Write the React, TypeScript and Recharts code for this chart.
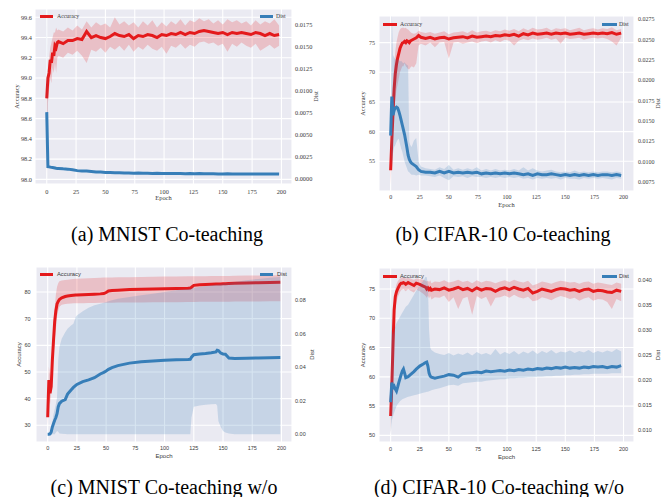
import { Area, CartesianGrid, ComposedChart, Line, XAxis, YAxis } from "recharts";

const RED = "#e41a1c";
const BLUE = "#377eb8";
const BG = "#eaeaf2";
const INK = "#3a3a3a";
const SERIF = '"Liberation Serif", "Times New Roman", serif';
const SANS = '"Liberation Sans", Arial, sans-serif';

const EPOCH_TICKS = [0, 25, 50, 75, 100, 125, 150, 175, 200];

// ---------- (a) MNIST Co-teaching ----------
const EPOCHS_A = [
  0, 1, 2, 3, 4, 5, 6, 7, 8, 9,
  10, 14, 18, 22, 26, 30, 34, 38, 42, 46,
  50, 54, 58, 62, 66, 70, 74, 78, 82, 86,
  90, 94, 98, 102, 106, 110, 114, 118, 122, 126,
  130, 134, 138, 142, 146, 150, 154, 158, 162, 166,
  170, 174, 178, 182, 186, 190, 194, 198,
];
const ACC_A = [
  98.8, 99.0, 99.05, 99.18, 99.15, 99.25, 99.22, 99.32, 99.3, 99.35,
  99.36, 99.34, 99.37, 99.37, 99.39, 99.38, 99.46, 99.4, 99.42, 99.4,
  99.39, 99.41, 99.44, 99.42, 99.41, 99.43, 99.39, 99.42, 99.41, 99.43,
  99.42, 99.4, 99.43, 99.42, 99.44, 99.43, 99.45, 99.43, 99.45, 99.44,
  99.46, 99.47, 99.46, 99.45, 99.44, 99.45, 99.43, 99.45, 99.44, 99.45,
  99.44, 99.43, 99.45, 99.44, 99.42, 99.44, 99.42, 99.43,
];
const ACC_A_HI = [
  98.82, 99.1, 99.2, 99.3, 99.35, 99.4, 99.45, 99.45, 99.5, 99.47,
  99.48, 99.46, 99.5, 99.47, 99.52, 99.48, 99.56, 99.5, 99.55, 99.52,
  99.54, 99.5, 99.6, 99.53, 99.56, 99.52, 99.55, 99.5, 99.56, 99.52,
  99.57, 99.5, 99.55, 99.51, 99.56, 99.53, 99.58, 99.52, 99.57, 99.55,
  99.59, 99.56, 99.58, 99.54, 99.57, 99.53, 99.58, 99.55, 99.57, 99.54,
  99.56, 99.52, 99.57, 99.53, 99.56, 99.54, 99.58, 99.52,
];
const ACC_A_LO = [
  98.05, 98.75, 98.9, 99.0, 98.95, 99.1, 99.05, 99.15, 99.05, 99.2,
  99.22, 99.2, 99.25, 99.23, 99.27, 99.22, 99.15, 99.28, 99.26, 99.3,
  99.25, 99.31, 99.28, 99.32, 99.27, 99.33, 99.26, 99.31, 99.28, 99.33,
  99.29, 99.27, 99.31, 99.24, 99.32, 99.3, 99.34, 99.29, 99.33, 99.31,
  99.35, 99.36, 99.34, 99.35, 99.32, 99.34, 99.26, 99.34, 99.31, 99.35,
  99.32, 99.3, 99.34, 99.27, 99.3, 99.33, 99.29, 99.32,
];
const DIST_A = [
  0.0076, 0.0014, 0.00138, 0.00135, 0.00132, 0.0013, 0.00128, 0.00125, 0.00122, 0.0012,
  0.0012, 0.00115, 0.00112, 0.00105, 0.00095, 0.00092, 0.0009, 0.00085, 0.0008, 0.00078,
  0.00075, 0.00074, 0.0007, 0.00072, 0.00068, 0.00068, 0.00066, 0.00067, 0.00064, 0.00065,
  0.00063, 0.00064, 0.00062, 0.00063, 0.00062, 0.00061, 0.00062, 0.0006, 0.00061, 0.0006,
  0.00061, 0.0006, 0.00059, 0.0006, 0.00058, 0.00058, 0.00059, 0.00057, 0.00058, 0.00057,
  0.00058, 0.00056, 0.00057, 0.00056, 0.00057, 0.00056, 0.00057, 0.00056,
];
// spread of Dist is only visible over the first epochs
const DIST_A_LO = [0.0045, 0.0012];
const DIST_A_HI = [0.02, 0.0016];

// ---------- (b) CIFAR-10 Co-teaching ----------
const EPOCHS_B = [
  0, 1, 2, 3, 4, 5, 6, 7, 8, 9,
  10, 11, 12, 13, 14, 15, 16, 17, 18, 20,
  22, 24, 26, 30, 34, 38, 42, 46, 50, 54,
  58, 62, 66, 70, 74, 78, 82, 86, 90, 94,
  98, 102, 106, 110, 114, 118, 122, 126, 130, 134,
  138, 142, 146, 150, 154, 158, 162, 166, 170, 174,
  178, 182, 186, 190, 194, 198,
];
const ACC_B = [
  53.5, 58.5, 63.0, 67.2, 69.8, 71.3, 72.4, 73.2, 74.0, 74.5,
  74.9, 75.0, 75.2, 75.0, 75.3, 75.2, 75.0, 75.3, 75.4, 75.6,
  75.8, 76.2, 75.9, 75.7, 75.9, 75.6, 75.8, 75.9, 75.6, 75.8,
  75.9, 76.0, 75.8, 76.1, 75.9, 76.0, 76.1, 76.0, 76.2, 76.1,
  76.3, 76.2, 76.4, 76.1, 76.5, 76.3, 76.6, 76.4, 76.5, 76.6,
  76.4, 76.6, 76.5, 76.6, 76.4, 76.5, 76.6, 76.4, 76.5, 76.6,
  76.5, 76.6, 76.5, 76.7, 76.4, 76.6,
];
const ACC_B_HI = [
  54.5, 61.0, 67.0, 71.0, 73.5, 75.0, 76.0, 76.8, 77.2, 77.4,
  77.5, 77.5, 77.4, 77.5, 77.3, 77.2, 77.0, 76.8, 76.6, 76.5,
  76.6, 77.0, 76.8, 76.6, 76.8, 76.5, 76.7, 76.9, 76.4, 76.7,
  76.8, 76.9, 76.6, 77.1, 76.7, 76.9, 77.0, 76.8, 77.1, 76.9,
  77.2, 77.0, 77.3, 76.9, 77.4, 77.1, 77.5, 77.2, 77.3, 77.5,
  77.1, 77.4, 77.3, 77.4, 77.1, 77.3, 77.5, 77.1, 77.3, 77.4,
  77.2, 77.4, 77.3, 77.6, 77.1, 77.3,
];
const ACC_B_LO = [
  51.0, 56.0, 60.0, 63.0, 65.5, 67.0, 68.0, 69.0, 70.0, 70.5,
  71.0, 71.0, 71.5, 71.0, 70.8, 70.5, 70.5, 70.8, 71.0, 70.8,
  71.5, 74.5, 74.8, 74.5, 75.0, 74.2, 75.0, 75.1, 72.3, 75.0,
  75.1, 74.8, 75.0, 75.2, 74.9, 75.2, 75.3, 75.0, 75.4, 75.1,
  75.5, 75.3, 74.5, 75.3, 75.6, 75.4, 75.7, 75.5, 75.6, 75.8,
  75.5, 75.7, 74.8, 75.8, 75.6, 75.7, 75.8, 75.5, 75.7, 75.8,
  75.7, 75.8, 75.6, 75.2, 74.5, 75.8,
];
const DIST_B = [
  0.0132, 0.018, 0.0157, 0.0163, 0.0166, 0.0167, 0.0166, 0.0162, 0.0157, 0.0151,
  0.0145, 0.0139, 0.0133, 0.0125, 0.0117, 0.0108, 0.0103, 0.01, 0.0098, 0.0096,
  0.0094, 0.009, 0.0088, 0.0087, 0.0087, 0.0086, 0.0088, 0.0086, 0.0088, 0.0086,
  0.0087, 0.0086, 0.0087, 0.0086, 0.0087, 0.0085, 0.0086, 0.0085, 0.0086, 0.0085,
  0.0086, 0.0085, 0.0086, 0.0085, 0.0084, 0.0085, 0.0083, 0.0085, 0.0084, 0.0084,
  0.0085, 0.0084, 0.0083, 0.0084, 0.0083, 0.0084, 0.0083, 0.0084, 0.0083, 0.0084,
  0.0083, 0.0084, 0.0084, 0.0083, 0.0084, 0.0083,
];
const DIST_B_HI = [
  0.014, 0.0285, 0.0231, 0.0228, 0.0226, 0.0225, 0.0226, 0.0225, 0.0223, 0.0224,
  0.0222, 0.0221, 0.0222, 0.022, 0.0219, 0.0218, 0.0124, 0.012, 0.0118, 0.0126,
  0.0129, 0.01, 0.0094, 0.0092, 0.0091, 0.009, 0.0093, 0.0091, 0.0096, 0.009,
  0.0092, 0.009, 0.0092, 0.009, 0.0093, 0.0089, 0.0091, 0.0089, 0.0091, 0.0089,
  0.009, 0.0089, 0.0091, 0.0089, 0.0093, 0.0089, 0.0092, 0.0089, 0.0088, 0.0089,
  0.009, 0.0088, 0.0087, 0.0088, 0.0087, 0.0089, 0.0087, 0.0088, 0.0087, 0.0088,
  0.0087, 0.0088, 0.0088, 0.0087, 0.0088, 0.0087,
];
const DIST_B_LO = [
  0.012, 0.0095, 0.011, 0.0118, 0.012, 0.0124, 0.0127, 0.0128, 0.0122, 0.0116,
  0.0112, 0.0106, 0.01, 0.0096, 0.0092, 0.0088, 0.0087, 0.0085, 0.0084, 0.0084,
  0.0083, 0.0084, 0.0083, 0.0083, 0.0082, 0.0081, 0.0083, 0.008, 0.0077, 0.0082,
  0.0081, 0.0082, 0.008, 0.0082, 0.0081, 0.0081, 0.008, 0.0081, 0.008, 0.0081,
  0.008, 0.0081, 0.008, 0.0081, 0.0079, 0.008, 0.0078, 0.008, 0.0079, 0.008,
  0.0079, 0.008, 0.0078, 0.008, 0.0079, 0.0079, 0.0078, 0.008, 0.0079, 0.008,
  0.0079, 0.008, 0.0079, 0.0078, 0.008, 0.0079,
];

// ---------- (c) MNIST Co-teaching w/o ----------
const EPOCHS_C = [
  0, 1, 2, 3, 4, 5, 6, 7, 8, 9,
  10, 12, 15, 17, 20, 22, 24, 25, 30, 35,
  40, 45, 48, 50, 52, 55, 60, 70, 80, 90,
  100, 110, 120, 122, 123, 125, 130, 135, 140, 144,
  145, 146, 148, 150, 152, 155, 160, 170, 180, 190,
  199,
];
const ACC_C = [
  33.0, 47.0, 42.0, 44.5, 54.5, 62.0, 69.0, 73.0, 75.5, 76.5,
  77.2, 77.8, 78.3, 78.5, 78.7, 78.8, 78.9, 78.9, 79.0, 79.1,
  79.2, 79.3, 79.4, 79.8, 80.4, 80.6, 80.7, 80.9, 81.0, 81.1,
  81.2, 81.3, 81.4, 81.5, 81.8, 82.5, 82.7, 82.8, 82.9, 83.0,
  83.0, 83.0, 83.0, 83.1, 83.1, 83.2, 83.3, 83.4, 83.5, 83.6,
  83.7,
];
const ACC_C_HI = [
  35.0, 52.0, 49.0, 47.0, 57.0, 66.0, 74.0, 79.0, 82.0, 83.3,
  84.0, 84.3, 84.5, 84.6, 84.8, 84.9, 85.0, 85.0, 85.1, 85.2,
  85.3, 85.35, 85.4, 85.4, 85.45, 85.45, 85.5, 85.55, 85.6, 85.7,
  85.8, 85.85, 85.9, 85.9, 85.9, 85.9, 85.95, 85.95, 86.0, 86.0,
  86.0, 86.0, 86.0, 86.0, 86.05, 86.05, 86.1, 86.15, 86.2, 86.25,
  86.3,
];
const ACC_C_LO = [
  30.0, 40.0, 38.0, 42.0, 50.0, 56.0, 62.0, 66.0, 71.0, 73.0,
  74.5, 75.2, 75.5, 75.6, 75.7, 75.8, 75.8, 75.8, 75.8, 75.9,
  75.9, 76.0, 76.0, 76.0, 76.0, 76.0, 76.05, 76.1, 76.1, 76.15,
  76.2, 76.2, 76.25, 76.25, 76.25, 76.25, 76.3, 76.3, 76.3, 76.3,
  76.3, 76.3, 76.3, 76.35, 76.35, 76.35, 76.4, 76.4, 76.45, 76.5,
  76.5,
];
const DIST_C = [
  0.0, 0.0, 0.0002, 0.0014, 0.0044, 0.0065, 0.0084, 0.01, 0.0123, 0.0163,
  0.0183, 0.0198, 0.0207, 0.024, 0.0265, 0.028, 0.0292, 0.0298, 0.0315, 0.0325,
  0.0338, 0.036, 0.037, 0.0378, 0.0388, 0.0398, 0.041, 0.0425, 0.0433, 0.0438,
  0.0442, 0.0445, 0.0447, 0.0448, 0.046, 0.0475, 0.048, 0.0483, 0.0487, 0.0492,
  0.0502, 0.05, 0.0485, 0.048, 0.0478, 0.0455, 0.0453, 0.0454, 0.0456, 0.0457,
  0.0458,
];
const DIST_C_HI = [
  0.0005, 0.0005, 0.001, 0.003, 0.007, 0.012, 0.015, 0.018, 0.022, 0.044,
  0.052, 0.057, 0.061, 0.063, 0.065, 0.066, 0.07, 0.071, 0.0735, 0.0755,
  0.077, 0.078, 0.0785, 0.079, 0.0795, 0.08, 0.081, 0.082, 0.083, 0.084,
  0.085, 0.086, 0.0868, 0.087, 0.0872, 0.0875, 0.088, 0.0885, 0.089, 0.0895,
  0.0895, 0.0896, 0.0898, 0.09, 0.0902, 0.0905, 0.091, 0.092, 0.0928, 0.0935,
  0.094,
];
const DIST_C_LO = [
  0, 0, 0, 0, 0, 0, 0, 0.001, 0.002, 0.0015,
  0.0005, 0.0003, 0.0002, 0, 0, 0, 0, 0, 0, 0,
  0, 0, 0, 0, 0, 0, 0, 0, 0, 0,
  0, 0, 0, 0, 0.01, 0.0165, 0.0172, 0.0176, 0.018, 0.0181,
  0.017, 0.008, 0.0045, 0.002, 0.001, 0.0005, 0, 0, 0, 0,
  0,
];

// ---------- (d) CIFAR-10 Co-teaching w/o ----------
const EPOCHS_D = [
  0, 1, 2, 3, 4, 5, 6, 7, 8, 9,
  10, 11, 12, 13, 15, 17, 20, 22, 25, 28,
  30, 31, 32, 33, 34, 35, 38, 42, 46, 50,
  54, 58, 62, 66, 70, 74, 78, 82, 86, 90,
  94, 98, 102, 106, 110, 114, 118, 122, 126, 130,
  134, 138, 142, 146, 150, 154, 158, 162, 166, 170,
  174, 178, 182, 186, 190, 194, 198,
];
const ACC_D = [
  53.3, 58.4, 65.2, 71.4, 73.7, 74.5, 75.0, 75.4, 75.8, 76.0,
  76.0, 76.1, 76.0, 75.8, 76.1, 75.9, 75.6, 76.0, 75.8, 75.5,
  75.3, 75.0, 75.2, 74.9, 75.1, 74.8, 75.0, 74.9, 75.2, 74.8,
  75.0, 75.3, 74.9, 75.1, 74.7, 75.2, 74.8, 75.1, 75.0, 74.6,
  75.0, 75.2, 74.9, 75.3, 75.0, 74.8, 75.1, 74.3, 74.6, 75.0,
  74.8, 74.6, 74.9, 75.1, 75.0, 74.8, 74.9, 74.6, 74.9, 75.0,
  74.6, 74.8, 74.7, 74.5, 74.4, 74.8, 74.6,
];
const ACC_D_HI = [
  54.5, 61.0, 68.0, 73.0, 75.0, 75.8, 76.3, 76.6, 76.8, 76.9,
  77.0, 77.0, 76.9, 76.8, 76.9, 76.8, 76.6, 76.8, 76.7, 76.6,
  76.4, 76.3, 76.4, 76.2, 76.5, 76.0, 76.3, 76.2, 76.5, 76.1,
  76.3, 76.6, 76.2, 76.4, 76.0, 76.5, 76.1, 76.4, 76.3, 76.0,
  76.3, 76.5, 76.2, 76.6, 76.3, 76.1, 76.4, 75.6, 75.9, 76.3,
  76.1, 75.9, 76.2, 76.4, 76.3, 76.1, 76.2, 75.9, 76.2, 76.3,
  75.9, 76.1, 76.0, 75.8, 75.7, 76.1, 75.9,
];
const ACC_D_LO = [
  50.2, 55.0, 62.0, 68.5, 71.5, 72.8, 73.5, 74.0, 74.5, 74.8,
  74.9, 75.0, 74.8, 74.6, 75.0, 74.7, 74.4, 74.9, 74.6, 74.2,
  73.8, 73.5, 73.9, 73.4, 73.8, 73.2, 73.6, 73.5, 73.9, 72.8,
  73.6, 71.6, 73.4, 73.7, 70.6, 73.8, 73.3, 73.7, 72.0, 73.5,
  73.6, 73.9, 73.5, 74.0, 73.6, 73.4, 73.7, 72.9, 73.1, 73.6,
  73.4, 73.1, 73.5, 73.8, 73.6, 73.3, 73.5, 73.0, 73.4, 73.6,
  73.0, 73.3, 73.2, 72.8, 71.6, 73.3, 72.9,
];
const DIST_D = [
  0.0156, 0.0195, 0.0185, 0.0188, 0.0182, 0.0178, 0.0186, 0.0195, 0.0203, 0.0211,
  0.0218, 0.0222, 0.0214, 0.0205, 0.0207, 0.0211, 0.0217, 0.0222, 0.0228, 0.0232,
  0.0235, 0.0236, 0.0228, 0.0214, 0.0208, 0.0206, 0.0204, 0.0206, 0.0208, 0.0211,
  0.021, 0.0206, 0.0213, 0.0214, 0.0215, 0.0216, 0.0215, 0.0218, 0.0217, 0.0218,
  0.0219, 0.0218, 0.022, 0.0219, 0.0221, 0.022, 0.0222, 0.0221, 0.0223, 0.0222,
  0.0224, 0.0223, 0.0225, 0.0224, 0.0226, 0.0224, 0.0225, 0.0224, 0.0226, 0.0225,
  0.0227, 0.0226, 0.0227, 0.0225, 0.0227, 0.0226, 0.0229,
];
const DIST_D_HI = [
  0.0367, 0.03, 0.029, 0.03, 0.0307, 0.0314, 0.0318, 0.0322, 0.0326, 0.033,
  0.0334, 0.0338, 0.0342, 0.0346, 0.035, 0.0358, 0.037, 0.0378, 0.0388, 0.0398,
  0.0406, 0.0405, 0.039, 0.03, 0.0265, 0.026, 0.0255, 0.0252, 0.025, 0.0254,
  0.0249, 0.0253, 0.025, 0.0255, 0.0249, 0.0256, 0.0251, 0.0254, 0.025, 0.0262,
  0.0251, 0.0256, 0.0252, 0.0258, 0.0251, 0.0257, 0.0253, 0.0259, 0.0252, 0.0258,
  0.0254, 0.026, 0.0253, 0.0257, 0.0255, 0.0259, 0.0254, 0.0258, 0.0255, 0.026,
  0.0254, 0.0258, 0.0255, 0.0259, 0.0256, 0.0262, 0.0257,
];
const DIST_D_LO = [
  0.0091, 0.012, 0.0128, 0.0135, 0.0142, 0.0148, 0.0152, 0.0155, 0.0158, 0.016,
  0.0162, 0.0163, 0.0164, 0.0165, 0.0167, 0.0168, 0.017, 0.0171, 0.0173, 0.0175,
  0.0176, 0.0177, 0.0177, 0.0178, 0.0179, 0.018, 0.0182, 0.0184, 0.0187, 0.019,
  0.0191, 0.0189, 0.0194, 0.0195, 0.0196, 0.0197, 0.0197, 0.0199, 0.02, 0.0201,
  0.0202, 0.0202, 0.0204, 0.0204, 0.0205, 0.0205, 0.0206, 0.0206, 0.0207, 0.0207,
  0.0208, 0.0208, 0.0209, 0.0209, 0.021, 0.021, 0.0211, 0.0211, 0.0212, 0.0212,
  0.0213, 0.0213, 0.0213, 0.0213, 0.0214, 0.0214, 0.0214,
];

const ACC_TICKS_A = [98.0, 98.2, 98.4, 98.6, 98.8, 99.0, 99.2, 99.4, 99.6];
const DIST_TICKS_A = [0, 0.0025, 0.005, 0.0075, 0.01, 0.0125, 0.015, 0.0175];
const ACC_TICKS_B = [55, 60, 65, 70, 75];
const DIST_TICKS_B = [0.0075, 0.01, 0.0125, 0.015, 0.0175, 0.02, 0.0225, 0.025, 0.0275];
const ACC_TICKS_C = [30, 40, 50, 60, 70, 80];
const DIST_TICKS_C = [0, 0.02, 0.04, 0.06, 0.08];
const ACC_TICKS_D = [50, 55, 60, 65, 70, 75];
const DIST_TICKS_D = [0.01, 0.015, 0.02, 0.025, 0.03, 0.035, 0.04];

function buildRows(
  epochs: number[],
  acc: number[],
  accLo: number[],
  accHi: number[],
  dist: number[],
  distLo: number[],
  distHi: number[]
) {
  return epochs.map((epoch, i) => ({
    epoch,
    acc: acc[i],
    accBand: [accLo[i], accHi[i]],
    dist: dist[i],
    distBand: distLo[i] === undefined ? null : [distLo[i], distHi[i]],
  }));
}

interface PanelProps {
  rows: any[];
  left: number;
  top: number;
  width: number;
  height: number;
  marginTop: number;
  leftW: number;
  rightW: number;
  xH: number;
  accDomain: [number, number];
  accTicks: number[];
  accDigits: number;
  distDomain: [number, number];
  distTicks: number[];
  distDigits: number;
  font: string;
  tickFont: number;
  labelFont: number;
  xGap: number;
  lGap: number;
  rGap: number;
  accOffset: number;
  distOffset: number;
  epochOffset: number;
}

function Panel(p: PanelProps) {
  const tick = { fontSize: p.tickFont, fontFamily: p.font, fill: INK };
  const lab = { fontSize: p.labelFont, fontFamily: p.font, fill: INK };
  return (
    <div style={{ position: "absolute", left: p.left, top: p.top }}>
      <ComposedChart
        width={p.width}
        height={p.height}
        data={p.rows}
        margin={{ top: p.marginTop, right: 0, bottom: 0, left: 0 }}
      >
        <CartesianGrid
          yAxisId="acc"
          fill={BG}
          fillOpacity={1}
          stroke="#ffffff"
          strokeWidth={1.1}
        />
        <XAxis
          dataKey="epoch"
          type="number"
          domain={[-10, 209]}
          ticks={EPOCH_TICKS}
          interval={0}
          allowDataOverflow
          axisLine={false}
          tickLine={false}
          tickSize={0}
          tickMargin={p.xGap}
          height={p.xH}
          tick={tick}
          label={{ value: "Epoch", position: "insideBottom", offset: p.epochOffset, ...lab }}
        />
        <YAxis
          yAxisId="acc"
          orientation="left"
          type="number"
          width={p.leftW}
          domain={p.accDomain}
          ticks={p.accTicks}
          interval={0}
          allowDataOverflow
          axisLine={false}
          tickLine={false}
          tickSize={0}
          tickMargin={p.lGap}
          tick={tick}
          tickFormatter={(v: number) => v.toFixed(p.accDigits)}
          label={{
            value: "Accuracy",
            angle: -90,
            position: "insideLeft",
            offset: p.accOffset,
            ...lab,
            style: { textAnchor: "middle" },
          }}
        />
        <YAxis
          yAxisId="dist"
          orientation="right"
          type="number"
          width={p.rightW}
          domain={p.distDomain}
          ticks={p.distTicks}
          interval={0}
          allowDataOverflow
          axisLine={false}
          tickLine={false}
          tickSize={0}
          tickMargin={p.rGap}
          tick={{ ...tick, textAnchor: "start" }}
          tickFormatter={(v: number) => v.toFixed(p.distDigits)}
          label={{
            value: "Dist",
            angle: -90,
            position: "insideRight",
            offset: p.distOffset,
            ...lab,
            style: { textAnchor: "middle" },
          }}
        />
        <Area
          yAxisId="acc"
          dataKey="accBand"
          stroke="none"
          fill={RED}
          fillOpacity={0.2}
          isAnimationActive={false}
          activeDot={false}
          zIndex={100}
        />
        <Line
          yAxisId="acc"
          dataKey="acc"
          stroke={RED}
          strokeWidth={3}
          dot={false}
          activeDot={false}
          isAnimationActive={false}
          zIndex={400}
        />
        <Area
          yAxisId="dist"
          dataKey="distBand"
          stroke="none"
          fill={BLUE}
          fillOpacity={0.2}
          isAnimationActive={false}
          activeDot={false}
          zIndex={450}
        />
        <Line
          yAxisId="dist"
          dataKey="dist"
          stroke={BLUE}
          strokeWidth={3}
          dot={false}
          activeDot={false}
          isAnimationActive={false}
          zIndex={500}
        />
      </ComposedChart>
    </div>
  );
}

function LegendEntry(props: {
  x: number;
  w: number;
  y: number;
  tx: number;
  color: string;
  text: string;
  font: string;
}) {
  const size = 5.8;
  return (
    <>
      <div
        style={{
          position: "absolute",
          left: props.x,
          top: props.y - 1.5,
          width: props.w,
          height: 3,
          background: props.color,
        }}
      />
      <div
        style={{
          position: "absolute",
          left: props.tx,
          top: props.y - 4,
          height: 8,
          lineHeight: "8px",
          fontSize: size,
          fontFamily: props.font,
          color: INK,
          whiteSpace: "nowrap",
        }}
      >
        {props.text}
      </div>
    </>
  );
}

function Caption(props: { cx: number; cy: number; text: string }) {
  return (
    <div
      style={{
        position: "absolute",
        left: props.cx - 200,
        top: props.cy - 12,
        width: 400,
        height: 24,
        lineHeight: "24px",
        textAlign: "center",
        fontFamily: SERIF,
        fontSize: 20,
        color: "#000",
        whiteSpace: "nowrap",
      }}
    >
      {props.text}
    </div>
  );
}

export default function App() {
  const rowsA = buildRows(EPOCHS_A, ACC_A, ACC_A_LO, ACC_A_HI, DIST_A, DIST_A_LO, DIST_A_HI);
  const rowsB = buildRows(EPOCHS_B, ACC_B, ACC_B_LO, ACC_B_HI, DIST_B, DIST_B_LO, DIST_B_HI);
  const rowsC = buildRows(EPOCHS_C, ACC_C, ACC_C_LO, ACC_C_HI, DIST_C, DIST_C_LO, DIST_C_HI);
  const rowsD = buildRows(EPOCHS_D, ACC_D, ACC_D_LO, ACC_D_HI, DIST_D, DIST_D_LO, DIST_D_HI);

  return (
    <div
      style={{
        position: "absolute",
        left: 0,
        top: 0,
        width: 671,
        height: 497,
        background: "#ffffff",
        overflow: "hidden",
      }}
    >
      <Panel
        rows={rowsA}
        left={0}
        top={0}
        width={330}
        height={210}
        marginTop={9}
        leftW={35}
        rightW={38}
        xH={26}
        accDomain={[97.954, 99.682]}
        accTicks={ACC_TICKS_A}
        accDigits={1}
        distDomain={[-0.00057, 0.01932]}
        distTicks={DIST_TICKS_A}
        distDigits={4}
        font={SERIF}
        tickFont={6.3}
        labelFont={6.4}
        xGap={6}
        lGap={3}
        rGap={3}
        accOffset={17}
        distOffset={14}
        epochOffset={10}
      />
      <Panel
        rows={rowsB}
        left={335}
        top={0}
        width={336}
        height={215}
        marginTop={16}
        leftW={44}
        rightW={37}
        xH={24}
        accDomain={[50.0, 79.48]}
        accTicks={ACC_TICKS_B}
        accDigits={0}
        distDomain={[0.00639, 0.0279]}
        distTicks={DIST_TICKS_B}
        distDigits={4}
        font={SERIF}
        tickFont={6}
        labelFont={6.4}
        xGap={4}
        lGap={4}
        rGap={4}
        accOffset={28}
        distOffset={13}
        epochOffset={8}
      />
      <Panel
        rows={rowsC}
        left={0}
        top={255}
        width={330}
        height={210}
        marginTop={12}
        leftW={36}
        rightW={38}
        xH={23}
        accDomain={[23.74, 89.38]}
        accTicks={ACC_TICKS_C}
        accDigits={0}
        distDomain={[-0.0046, 0.0999]}
        distTicks={DIST_TICKS_C}
        distDigits={2}
        font={SANS}
        tickFont={5.5}
        labelFont={6}
        xGap={4}
        lGap={5.5}
        rGap={3}
        accOffset={19}
        distOffset={18}
        epochOffset={7}
      />
      <Panel
        rows={rowsD}
        left={335}
        top={255}
        width={336}
        height={210}
        marginTop={13}
        leftW={44}
        rightW={37}
        xH={23}
        accDomain={[48.87, 78.59]}
        accTicks={ACC_TICKS_D}
        accDigits={0}
        distDomain={[0.00769, 0.04233]}
        distTicks={DIST_TICKS_D}
        distDigits={3}
        font={SANS}
        tickFont={5.5}
        labelFont={6}
        xGap={5}
        lGap={4}
        rGap={4}
        accOffset={28}
        distOffset={13}
        epochOffset={6}
      />

      <LegendEntry x={40} w={13} y={16} tx={57} color={RED} text="Accuracy" font={SERIF} />
      <LegendEntry x={260} w={13} y={16} tx={276} color={BLUE} text="Dist" font={SERIF} />
      <LegendEntry x={383} w={14} y={24} tx={400} color={RED} text="Accuracy" font={SERIF} />
      <LegendEntry x={602} w={15} y={24} tx={619} color={BLUE} text="Dist" font={SERIF} />
      <LegendEntry x={40} w={13} y={274} tx={57} color={RED} text="Accuracy" font={SANS} />
      <LegendEntry x={260} w={13} y={274} tx={277} color={BLUE} text="Dist" font={SANS} />
      <LegendEntry x={383} w={14} y={276} tx={400} color={RED} text="Accuracy" font={SANS} />
      <LegendEntry x={602} w={15} y={276} tx={619} color={BLUE} text="Dist" font={SANS} />

      <Caption cx={167} cy={234} text="(a) MNIST Co-teaching" />
      <Caption cx={503} cy={234} text="(b) CIFAR-10 Co-teaching" />
      <Caption cx={164} cy={487} text="(c) MNIST Co-teaching w/o" />
      <Caption cx={499} cy={487} text="(d) CIFAR-10 Co-teaching w/o" />
    </div>
  );
}
